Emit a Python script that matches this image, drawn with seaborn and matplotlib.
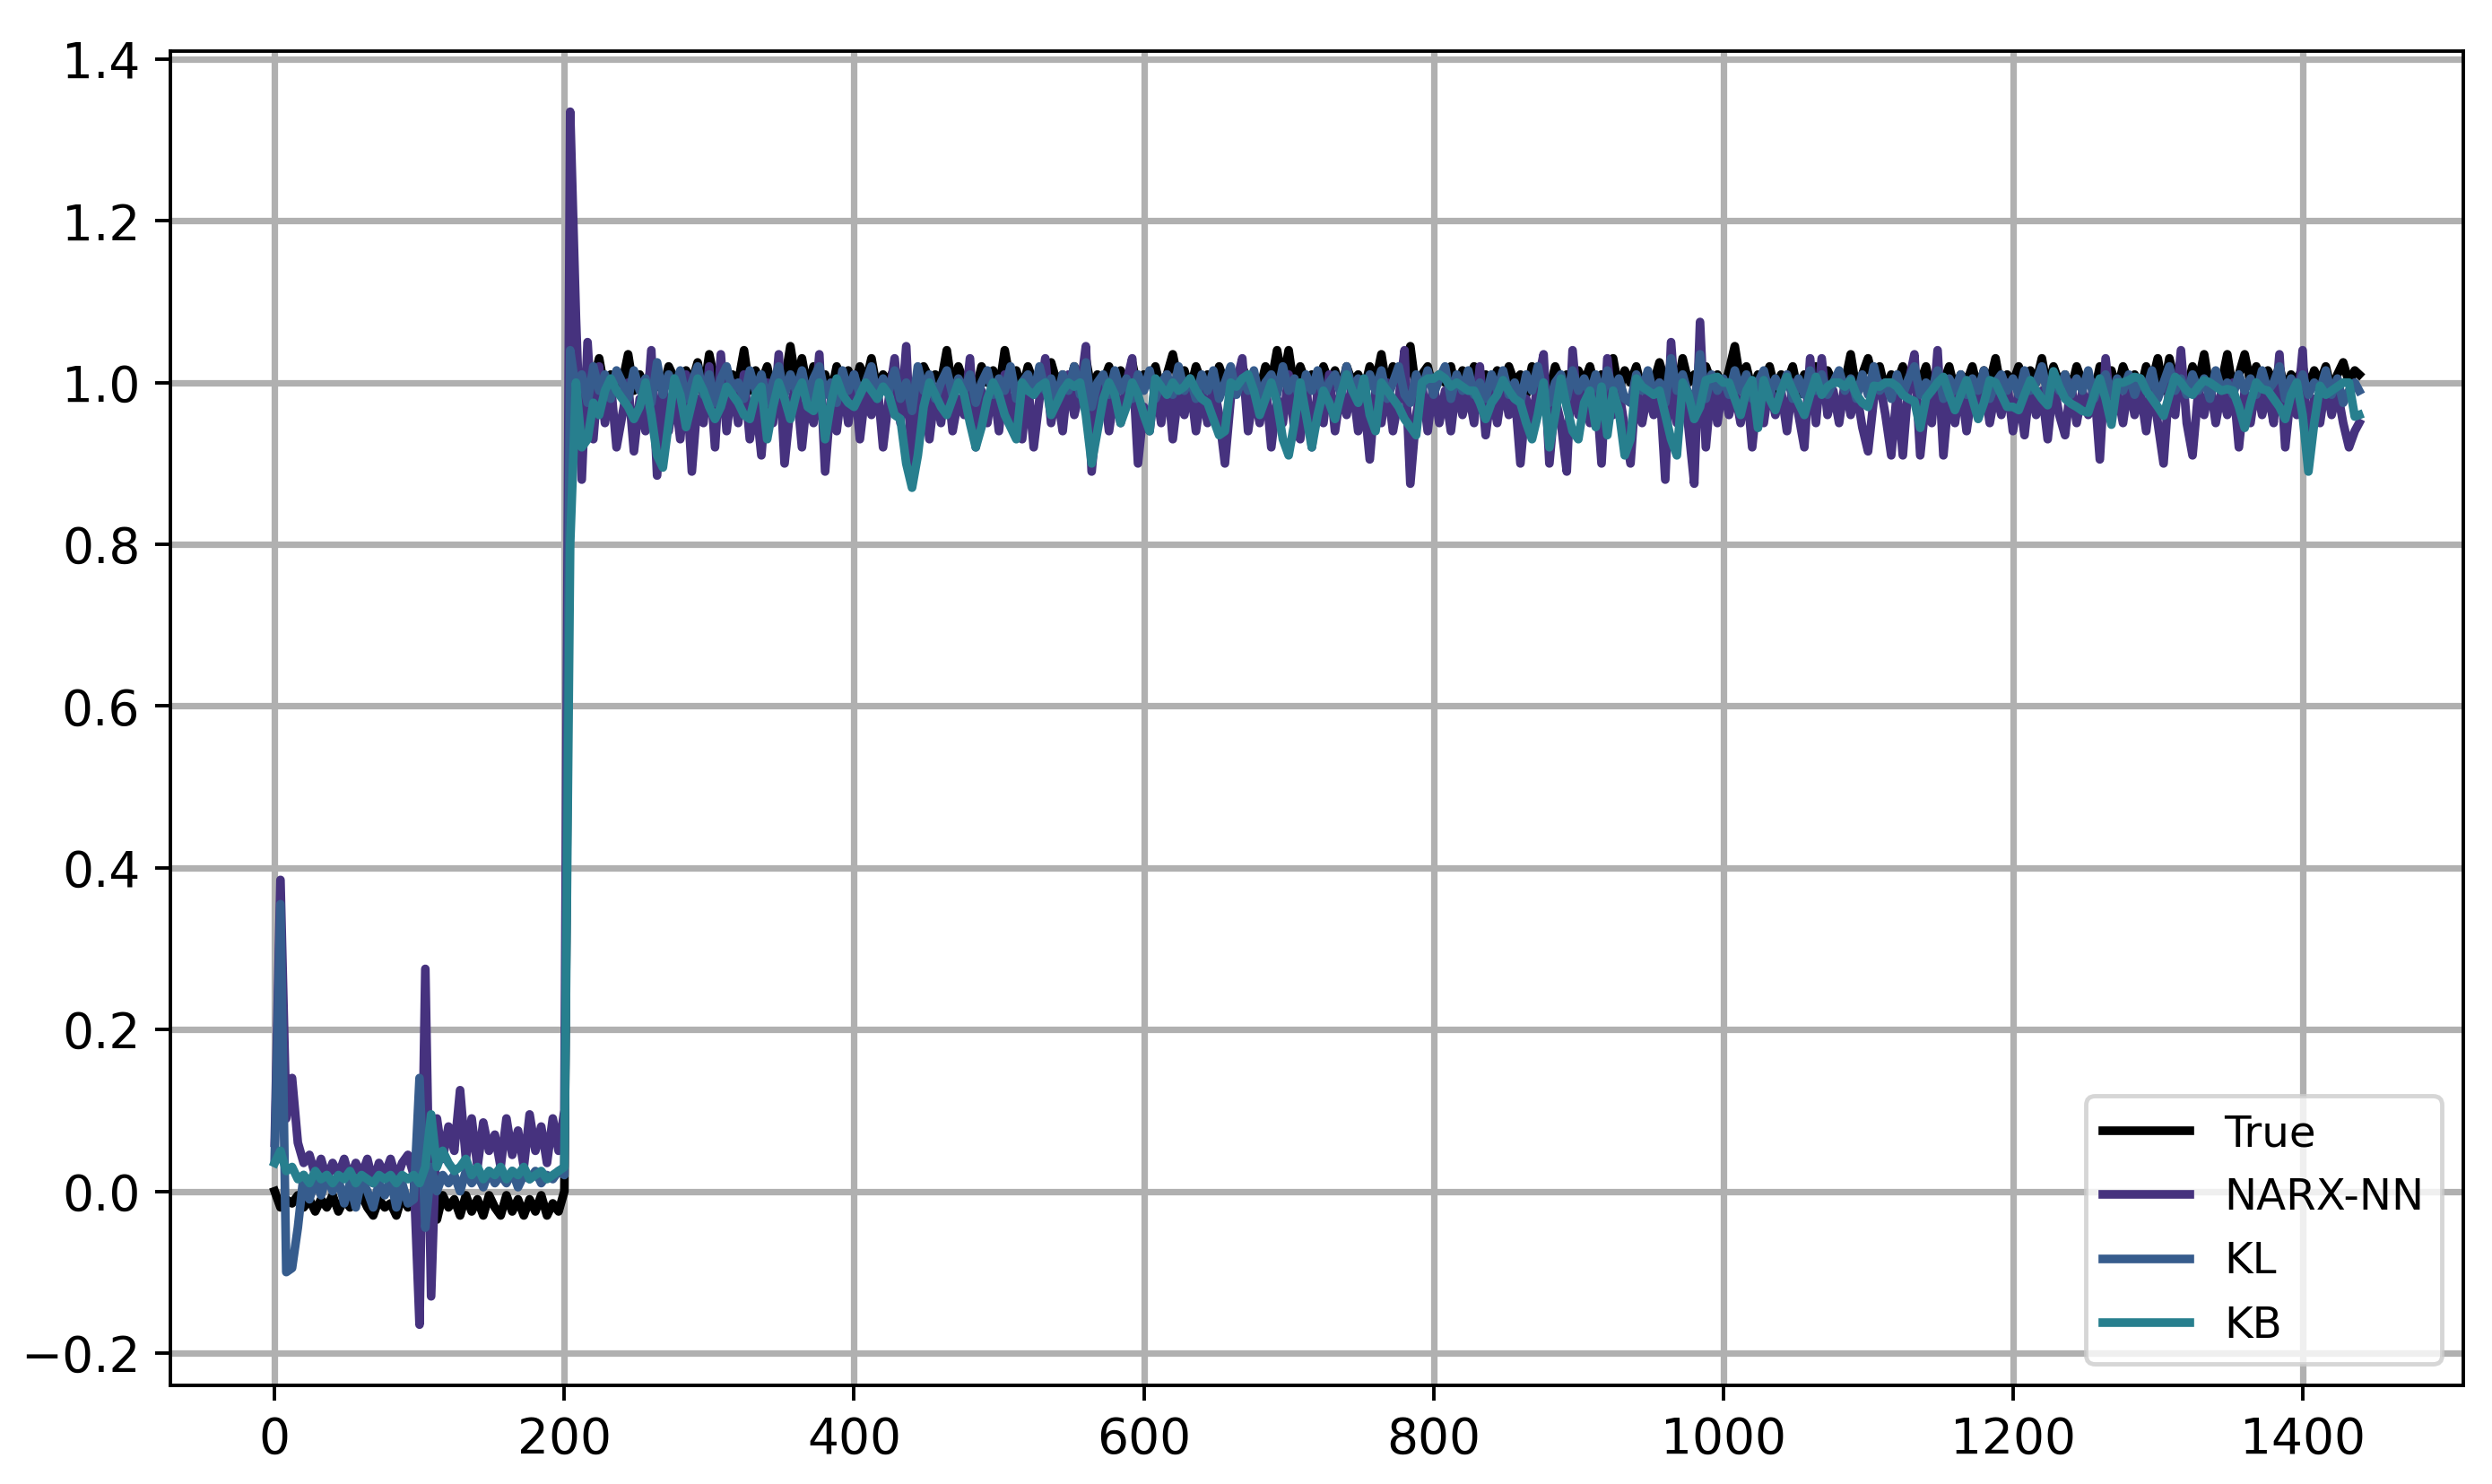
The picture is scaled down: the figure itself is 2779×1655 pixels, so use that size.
import matplotlib
matplotlib.use("Agg")
import matplotlib.pyplot as plt
import seaborn as sns

# sample index, every 4th step plus the last one
T = list(range(0, 1440, 4)) + [1439]

true_vals = [
    0.00, -0.02, -0.01, -0.015, -0.005, -0.02, -0.01, -0.025, -0.01, -0.02,
    -0.005, -0.025, -0.01, -0.02, -0.015, -0.005, -0.02, -0.03, -0.01, -0.02,
    -0.015, -0.03, -0.005, -0.02, -0.01, 0.00, -0.015, -0.01, -0.035, -0.005,
    -0.02, -0.01, -0.03, -0.005, -0.025, -0.01, -0.03, -0.005, -0.02, -0.03,
    -0.005, -0.025, -0.01, -0.03, -0.01, -0.025, -0.005, -0.03, -0.015, -0.025,
    0.00, 0.98, 1.01, 0.99, 1.02, 1.00, 1.03, 0.99, 1.01, 1.00,
    1.00, 1.035, 0.99, 1.01, 0.985, 1.02, 1.00, 0.99, 1.02, 1.005,
    0.99, 1.015, 1.00, 1.025, 0.985, 1.035, 1.00, 1.02, 0.99, 1.01,
    1.00, 1.04, 0.99, 1.015, 1.00, 1.02, 0.985, 1.01, 1.00, 1.045,
    1.00, 1.03, 0.99, 1.02, 1.00, 1.01, 0.985, 1.02, 1.00, 1.015,
    0.99, 1.02, 1.00, 1.03, 0.99, 1.01, 1.00, 1.02, 0.985, 1.01,
    0.98, 1.005, 1.02, 1.005, 1.01, 1.00, 1.04, 0.99, 1.02, 1.00,
    1.01, 0.99, 1.02, 1.00, 1.015, 0.99, 1.04, 1.00, 1.015, 0.99,
    1.02, 1.00, 1.01, 0.985, 1.025, 1.00, 1.01, 0.99, 1.02, 1.00,
    1.03, 0.99, 1.01, 1.00, 1.02, 0.985, 1.015, 1.00, 1.025, 0.99,
    1.01, 1.00, 1.02, 0.99, 1.01, 1.035, 1.00, 1.015, 0.99, 1.02,
    1.00, 1.01, 0.985, 1.02, 1.00, 1.015, 0.99, 1.02, 1.00, 1.01,
    0.99, 1.02, 1.00, 1.04, 1.00, 1.04, 0.99, 1.02, 1.00, 1.01,
    0.985, 1.02, 1.00, 1.015, 0.99, 1.02, 1.00, 1.01, 0.99, 1.02,
    1.00, 1.035, 0.99, 1.02, 1.00, 1.00, 1.045, 0.99, 1.01, 1.02,
    0.99, 1.01, 1.00, 1.02, 0.985, 1.015, 1.00, 1.02, 0.99, 1.01,
    1.00, 1.015, 0.99, 1.02, 1.00, 1.01, 0.985, 1.02, 1.00, 1.01,
    0.99, 1.02, 1.00, 1.01, 0.985, 1.015, 1.00, 1.02, 0.99, 1.01,
    1.00, 1.03, 0.99, 1.015, 1.00, 1.02, 0.99, 1.01, 1.00, 1.025,
    1.00, 1.02, 0.99, 1.03, 1.00, 1.01, 0.985, 1.02, 1.00, 1.01,
    0.99, 1.015, 1.045, 1.00, 1.02, 0.99, 1.01, 1.00, 1.02, 0.99,
    1.01, 1.00, 1.02, 0.985, 1.01, 1.00, 1.02, 0.99, 1.015, 1.00,
    1.01, 1.00, 1.035, 0.99, 1.01, 1.03, 1.00, 1.02, 0.99, 1.01,
    1.00, 1.02, 0.99, 1.015, 1.00, 1.02, 0.985, 1.01, 1.00, 1.02,
    0.99, 1.01, 1.00, 1.02, 0.99, 1.015, 1.00, 1.03, 0.99, 1.01,
    1.00, 1.02, 0.99, 1.015, 1.00, 1.03, 0.99, 1.02, 1.00, 1.01,
    0.99, 1.02, 1.00, 1.01, 0.985, 1.02, 1.00, 1.015, 0.99, 1.02,
    1.00, 1.01, 0.99, 1.02, 1.00, 1.03, 0.99, 1.03, 1.00, 1.01,
    0.99, 1.02, 1.00, 1.035, 0.99, 1.01, 1.00, 1.035, 0.99, 1.01,
    1.035, 1.00, 1.02, 0.99, 1.015, 1.00, 1.02, 0.99, 1.01, 1.00,
    1.02, 0.99, 1.015, 1.00, 1.02, 0.99, 1.01, 1.025, 1.00, 1.015,
    1.01,
]

narx_vals = [
    0.06, 0.385, 0.09, 0.14, 0.06, 0.035, 0.045, 0.02, 0.04, 0.015,
    0.035, 0.02, 0.04, 0.015, 0.035, 0.02, 0.04, 0.01, 0.035, 0.02,
    0.04, 0.015, 0.035, 0.045, 0.02, -0.165, 0.275, -0.13, 0.09, 0.04,
    0.08, 0.05, 0.125, 0.04, 0.09, 0.03, 0.085, 0.05, 0.07, 0.03,
    0.09, 0.045, 0.075, 0.03, 0.095, 0.05, 0.08, 0.035, 0.09, 0.05,
    0.10, 1.335, 1.08, 0.88, 1.05, 0.93, 1.02, 0.95, 1.00, 0.92,
    0.96, 1.00, 0.915, 0.98, 0.94, 1.04, 0.885, 1.00, 0.94, 0.99,
    0.93, 1.01, 0.89, 0.98, 0.95, 1.02, 0.92, 1.035, 0.94, 1.00,
    0.95, 1.01, 0.93, 0.98, 0.91, 1.00, 0.95, 1.035, 0.90, 0.97,
    1.00, 0.92, 0.99, 0.95, 1.035, 0.89, 0.98, 0.94, 1.00, 0.95,
    1.01, 0.93, 0.99, 0.96, 1.00, 0.92, 0.98, 1.03, 0.95, 1.045,
    0.89, 0.96, 1.00, 0.93, 0.99, 0.95, 1.01, 0.94, 0.98, 0.96,
    1.03, 0.92, 0.99, 0.95, 1.00, 0.94, 1.01, 0.95, 0.99, 0.93,
    1.00, 0.92, 0.98, 1.03, 0.95, 0.99, 0.94, 1.01, 0.96, 0.99,
    1.045, 0.89, 0.97, 1.00, 0.94, 0.99, 0.95, 1.00, 1.03, 0.90,
    0.97, 0.94, 1.00, 0.95, 1.01, 0.93, 0.99, 0.96, 1.00, 0.94,
    0.99, 0.95, 1.00, 0.96, 0.90, 0.98, 1.00, 1.03, 0.94, 0.99,
    0.95, 1.00, 0.92, 0.98, 0.95, 1.01, 0.94, 0.93, 1.00, 0.92,
    0.99, 0.95, 1.01, 0.94, 0.99, 0.96, 1.00, 0.94, 0.98, 0.905,
    0.99, 0.95, 1.00, 0.94, 0.98, 1.04, 0.875, 0.96, 1.00, 0.94,
    1.00, 0.95, 0.99, 0.94, 1.00, 0.96, 0.99, 0.95, 1.02, 0.935,
    0.99, 0.95, 1.00, 0.96, 0.99, 0.90, 0.98, 0.95, 1.00, 1.035,
    0.90, 0.98, 0.95, 0.89, 1.04, 0.96, 0.99, 0.95, 1.00, 0.90,
    1.03, 0.96, 0.99, 0.945, 0.90, 1.00, 0.95, 0.99, 0.96, 1.00,
    0.88, 1.05, 0.95, 0.99, 0.945, 0.875, 1.075, 0.92, 1.00, 0.95,
    1.00, 0.96, 0.99, 0.95, 1.00, 0.92, 0.99, 0.95, 1.00, 0.96,
    0.99, 0.94, 1.00, 0.96, 0.92, 1.03, 0.95, 1.03, 0.96, 0.99,
    0.95, 1.00, 0.96, 0.99, 0.945, 0.915, 0.98, 1.00, 0.96, 0.91,
    0.99, 0.91, 1.00, 1.035, 0.91, 0.98, 0.95, 1.04, 0.91, 0.99,
    0.95, 1.00, 0.94, 0.99, 0.96, 1.00, 0.95, 0.99, 0.96, 1.00,
    0.94, 0.99, 0.935, 1.00, 0.96, 0.99, 0.93, 1.00, 0.96, 0.935,
    1.00, 0.95, 0.99, 0.96, 1.00, 0.905, 1.03, 0.96, 0.99, 0.95,
    1.00, 0.96, 0.99, 0.94, 1.00, 0.95, 0.90, 1.00, 0.96, 1.04,
    0.95, 0.91, 0.99, 0.96, 1.00, 0.95, 0.99, 0.96, 1.00, 0.92,
    0.99, 0.95, 1.00, 0.96, 0.99, 0.95, 1.035, 0.92, 0.99, 0.96,
    1.04, 0.90, 0.98, 0.95, 1.00, 0.96, 0.99, 0.95, 0.92, 0.94,
    0.95,
]

kl_vals = [
    0.04, 0.355, -0.10, -0.095, -0.045, 0.02, -0.01, 0.015, -0.005, 0.02,
    0.00, 0.015, -0.015, 0.01, -0.02, 0.015, 0.00, -0.02, 0.01, -0.005,
    0.015, -0.02, 0.01, -0.015, -0.01, 0.14, -0.045, 0.03, 0.00, 0.02,
    0.01, 0.02, 0.00, 0.025, 0.01, 0.02, 0.005, 0.025, 0.01, 0.02,
    0.01, 0.025, 0.005, 0.02, 0.015, 0.025, 0.01, 0.02, 0.015, 0.025,
    0.02, 1.04, 0.99, 1.01, 0.975, 1.02, 0.99, 1.01, 0.98, 1.015,
    1.00, 0.98, 1.015, 0.99, 1.005, 0.975, 1.025, 0.985, 1.01, 0.99,
    1.015, 0.98, 1.00, 1.02, 0.985, 1.01, 0.975, 1.005, 1.02, 0.99,
    1.00, 0.98, 1.015, 0.99, 1.01, 0.975, 1.00, 1.02, 0.985, 1.01,
    0.99, 1.015, 0.98, 1.005, 1.02, 0.985, 1.00, 0.975, 1.015, 0.99,
    1.01, 0.985, 1.00, 1.02, 0.98, 1.005, 0.99, 1.015, 0.98, 1.00,
    0.965, 1.02, 0.99, 1.01, 0.98, 1.00, 1.015, 0.985, 1.005, 0.99,
    1.01, 0.975, 1.00, 1.015, 0.985, 1.005, 0.99, 1.02, 0.98, 1.00,
    1.01, 0.985, 1.02, 0.99, 1.005, 0.98, 1.01, 0.99, 1.02, 0.985,
    1.025, 0.97, 1.00, 1.01, 0.985, 1.015, 0.99, 1.005, 0.98, 1.01,
    0.99, 1.015, 0.98, 1.00, 1.01, 0.985, 1.02, 0.99, 1.005, 0.98,
    1.01, 0.99, 1.015, 0.98, 1.00, 1.02, 0.985, 1.005, 0.99, 1.015,
    0.98, 1.00, 1.01, 0.985, 1.02, 0.99, 1.005, 0.975, 1.01, 0.99,
    1.015, 0.98, 1.00, 1.01, 0.985, 1.02, 0.99, 1.005, 0.98, 1.01,
    0.99, 1.015, 0.98, 1.00, 1.02, 0.985, 0.975, 1.01, 0.99, 1.015,
    0.985, 1.005, 1.02, 0.98, 1.01, 0.99, 1.015, 0.985, 1.00, 0.98,
    1.01, 0.99, 1.015, 0.985, 1.00, 0.975, 1.01, 0.99, 1.02, 0.985,
    0.975, 1.00, 1.01, 0.98, 1.015, 0.99, 1.005, 0.985, 1.01, 0.98,
    1.015, 0.99, 1.005, 0.98, 0.975, 1.01, 0.99, 1.015, 0.985, 1.00,
    0.975, 1.03, 0.99, 1.01, 0.985, 0.97, 1.035, 0.98, 1.01, 0.99,
    1.005, 0.985, 1.015, 0.99, 1.01, 0.98, 1.00, 1.015, 0.985, 1.005,
    0.99, 1.01, 0.98, 1.005, 0.985, 1.015, 0.99, 1.01, 0.985, 1.00,
    1.015, 0.99, 1.005, 0.98, 1.01, 0.985, 1.02, 0.99, 1.00, 0.98,
    1.01, 0.985, 1.005, 1.02, 0.985, 1.00, 0.99, 1.015, 0.98, 1.005,
    0.99, 1.01, 0.985, 1.005, 0.99, 1.015, 0.98, 1.00, 1.01, 0.99,
    1.005, 0.985, 1.015, 0.99, 1.00, 1.02, 0.985, 1.005, 0.99, 1.01,
    0.985, 1.005, 0.99, 1.015, 0.98, 1.00, 1.01, 0.985, 1.005, 0.99,
    1.01, 0.985, 1.005, 0.99, 1.015, 0.98, 1.00, 1.02, 0.99, 1.005,
    0.985, 1.01, 0.99, 1.005, 0.98, 1.015, 0.99, 1.00, 0.985, 1.01,
    0.99, 1.005, 0.985, 1.015, 0.99, 1.00, 1.02, 0.98, 1.005, 0.99,
    1.01, 0.985, 1.00, 0.99, 1.015, 0.985, 1.005, 0.975, 0.99, 1.00,
    0.99,
]

kb_vals = [
    0.035, 0.05, 0.025, 0.03, 0.015, 0.02, 0.01, 0.025, 0.015, 0.02,
    0.01, 0.02, 0.015, 0.025, 0.01, 0.02, 0.015, 0.01, 0.02, 0.015,
    0.02, 0.01, 0.02, 0.015, 0.02, 0.01, 0.03, 0.095, 0.03, 0.05,
    0.035, 0.025, 0.03, 0.04, 0.02, 0.03, 0.015, 0.025, 0.02, 0.03,
    0.015, 0.025, 0.02, 0.03, 0.015, 0.02, 0.025, 0.015, 0.02, 0.025,
    0.03, 0.80, 1.00, 0.92, 0.93, 0.975, 0.96, 0.99, 1.005, 0.99,
    0.98, 0.97, 0.955, 0.97, 1.00, 0.96, 0.91, 0.895, 0.95, 1.005,
    0.985, 0.945, 0.975, 1.005, 0.99, 0.97, 0.955, 0.97, 0.995, 0.985,
    0.975, 0.96, 0.955, 0.985, 0.995, 0.93, 0.97, 1.00, 0.98, 0.955,
    0.985, 1.00, 0.97, 0.965, 1.00, 0.93, 0.975, 1.005, 0.985, 0.975,
    0.97, 0.985, 1.00, 0.99, 0.98, 0.995, 0.985, 0.96, 0.955, 0.90,
    0.87, 0.91, 0.97, 1.00, 0.985, 0.97, 0.96, 0.98, 1.00, 0.985,
    0.95, 0.92, 0.945, 0.98, 1.00, 0.985, 0.96, 0.945, 0.93, 1.00,
    0.99, 0.985, 0.995, 1.00, 0.96, 0.975, 0.99, 1.00, 0.995, 1.00,
    0.96, 0.90, 0.94, 0.98, 1.00, 0.985, 0.95, 0.97, 1.00, 0.985,
    0.96, 0.94, 1.005, 0.995, 0.985, 1.00, 0.99, 0.995, 1.005, 0.99,
    0.98, 0.975, 0.955, 0.935, 0.94, 1.00, 0.995, 1.005, 1.01, 0.99,
    0.96, 0.98, 1.00, 0.975, 0.93, 0.91, 0.95, 1.00, 0.96, 0.92,
    0.96, 0.99, 0.975, 0.955, 0.985, 1.01, 0.99, 0.975, 1.005, 0.96,
    0.94, 1.00, 0.99, 0.98, 0.97, 0.955, 0.945, 0.935, 1.00, 1.005,
    1.005, 1.01, 1.005, 0.995, 1.00, 0.995, 0.99, 0.99, 0.975, 0.955,
    0.975, 0.985, 1.003, 0.99, 0.98, 0.975, 0.95, 0.93, 0.96, 1.00,
    0.92, 0.96, 1.005, 0.97, 0.94, 0.93, 0.975, 0.99, 0.945, 0.995,
    0.935, 0.99, 0.965, 0.91, 0.93, 1.005, 0.995, 0.99, 0.985, 0.99,
    0.96, 0.93, 0.91, 1.00, 0.985, 0.955, 0.97, 1.003, 1.005, 1.007,
    1.00, 1.00, 0.98, 0.96, 0.99, 1.003, 0.944, 1.003, 0.98, 0.966,
    0.99, 1.007, 0.99, 0.975, 0.96, 0.985, 1.007, 0.985, 0.995, 1.00,
    1.00, 0.995, 1.003, 0.985, 0.975, 0.97, 0.996, 0.995, 1.00, 1.00,
    0.995, 0.985, 0.98, 0.977, 0.944, 0.981, 0.99, 1.00, 1.007, 0.985,
    0.966, 0.985, 1.003, 0.98, 0.955, 0.975, 1.003, 1.00, 0.985, 0.97,
    0.97, 0.966, 0.985, 1.003, 0.99, 0.98, 0.972, 1.014, 0.995, 0.98,
    0.974, 0.97, 0.965, 0.963, 0.985, 1.005, 0.98, 0.948, 1.00, 1.00,
    1.003, 1.007, 1.005, 0.99, 0.98, 0.97, 0.959, 0.985, 1.007, 1.00,
    0.99, 0.985, 0.995, 1.003, 1.00, 0.995, 0.99, 0.992, 0.99, 0.97,
    0.944, 0.975, 1.00, 0.992, 0.99, 0.98, 0.97, 0.955, 0.985, 1.00,
    0.96, 0.89, 0.95, 0.996, 0.985, 0.99, 0.995, 1.00, 1.00, 0.958,
    0.96,
]

labels = ["True", "NARX-NN", "KL", "KB"]
series = [true_vals, narx_vals, kl_vals, kb_vals]
viridis = sns.color_palette("viridis", 6)
colors = ["black", viridis[0], viridis[1], viridis[2]]

# figure drawn at 8in wide and saved at a higher dpi, to land on 2779x1655
fig = plt.figure(figsize=(8, 1655 / 2779 * 8))
ax = fig.add_axes([0.0684, 0.0665, 0.9201, 0.8991])

for name, vals, c in zip(labels, series, colors):
    sns.lineplot(x=T, y=vals, color=c, label=name, linewidth=2, ax=ax)

ax.grid(True, color="#b0b0b0", linewidth=1.5)
ax.set_yticks([-0.2, 0.0, 0.2, 0.4, 0.6, 0.8, 1.0, 1.2, 1.4])
ax.tick_params(labelsize=11.4)
ax.legend(loc="lower right")

fig.savefig("out.png", dpi=2779 / 8)
